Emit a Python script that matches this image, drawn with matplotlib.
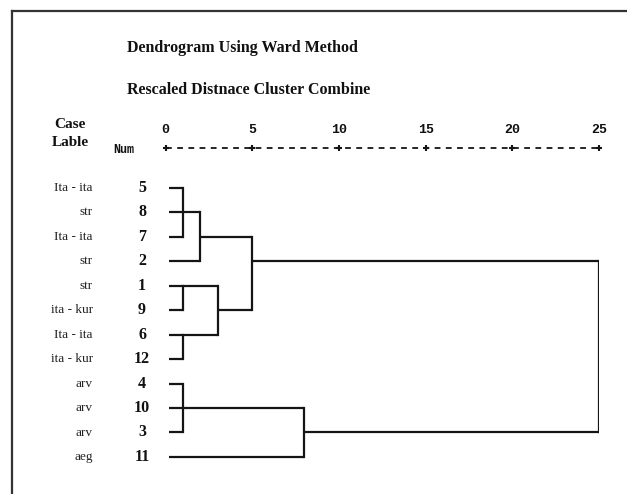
import numpy as np
import matplotlib.pyplot as plt
from matplotlib.lines import Line2D

# cases in display order (top to bottom)
case_labels = ["Ita - ita", "str", "Ita - ita", "str", "str", "ita - kur",
               "Ita - ita", "ita - kur", "arv", "arv", "arv", "aeg"]
case_nums = [5, 8, 7, 2, 1, 9, 6, 12, 4, 10, 3, 11]

# merges: children are ('c', case number) or ('m', merge index), height = rescaled distance
merges = [
    ([('c', 5), ('c', 8), ('c', 7)], 1.0),
    ([('m', 0), ('c', 2)], 2.0),
    ([('c', 1), ('c', 9)], 1.0),
    ([('c', 6), ('c', 12)], 1.0),
    ([('m', 2), ('m', 3)], 3.0),
    ([('m', 1), ('m', 4)], 5.0),
    ([('c', 4), ('c', 10), ('c', 3)], 1.0),
    ([('m', 6), ('c', 11)], 8.0),
    ([('m', 5), ('m', 7)], 25.0),
]
leaf_start = 0.2
axis_ticks = [0, 5, 10, 15, 20, 25]

W, H = 627, 494
fig = plt.figure(figsize=(W / 100, H / 100), dpi=100)
x0px, x25px = 165.5, 599
row0px, rowstep = 188, 24.45
ax = fig.add_axes([x0px / W, 1 - (row0px + 11.5 * rowstep) / H,
                   (x25px - x0px) / W, 12 * rowstep / H])
ax.set_xlim(0, 25)
ax.set_ylim(11.5, -0.5)
ax.axis('off')

lc = '#151515'
lw = 1.6
nodes = []  # (row, height) for each merge


def child_pos(c):
    kind, v = c
    if kind == 'c':
        return case_nums.index(v), leaf_start
    return nodes[v]


for children, h in merges:
    pos = [child_pos(c) for c in children]
    rows = [p[0] for p in pos]
    for r, ch in pos:
        ax.plot([ch, h], [r, r], color=lc, lw=lw, solid_capstyle='butt')
    ax.plot([h, h], [min(rows), max(rows)], color=lc, lw=lw, solid_capstyle='projecting')
    nodes.append((int(np.floor(np.mean(rows))), h))

# case labels and numbers
for i, (lab, n) in enumerate(zip(case_labels, case_nums)):
    ax.text(-4.2, i, lab, ha='right', va='center', fontsize=9.5,
            family='Liberation Serif', color='#222', clip_on=False)
    ax.text(-1.35, i, str(n), ha='center', va='center', fontsize=11.5,
            family='Liberation Serif', fontweight='bold', color='#111', clip_on=False)

# distance scale
scale_row = -1.63
ax.plot([0, 25], [scale_row, scale_row], color=lc, lw=1.3,
        dashes=(3.2, 3.0), clip_on=False)
ax.plot(axis_ticks, [scale_row] * len(axis_ticks), ls='none', marker='+',
        ms=5, mew=1.5, color=lc, clip_on=False)
for t in axis_ticks:
    ax.text(t, -2.37, str(t), ha='center', va='center', fontsize=9.5,
            family='Liberation Mono', fontweight='bold', color='#111', clip_on=False)
ax.text(-2.4, -1.55, 'Num', ha='center', va='center', fontsize=8.5,
        family='Liberation Mono', fontweight='bold', color='#111', clip_on=False)

# titles
fig.text(127 / W, 1 - 48 / H, 'Dendrogram Using Ward Method', ha='left', va='center',
         fontsize=11.5, family='Liberation Serif', fontweight='bold', color='#111')
fig.text(127 / W, 1 - 90 / H, 'Rescaled Distnace Cluster Combine', ha='left', va='center',
         fontsize=11.5, family='Liberation Serif', fontweight='bold', color='#111')
fig.text(70 / W, 1 - 125 / H, 'Case', ha='center', va='center', fontsize=11,
         family='Liberation Serif', fontweight='bold', color='#111')
fig.text(70 / W, 1 - 143 / H, 'Lable', ha='center', va='center', fontsize=11,
         family='Liberation Serif', fontweight='bold', color='#111')

# frame on left and top
fig.add_artist(Line2D([12 / W, 12 / W], [0, 1 - 11 / H], color='#333', lw=1.6))
fig.add_artist(Line2D([12 / W, 1], [1 - 11 / H, 1 - 11 / H], color='#333', lw=1.6))

fig.savefig('out.png', dpi=100)
